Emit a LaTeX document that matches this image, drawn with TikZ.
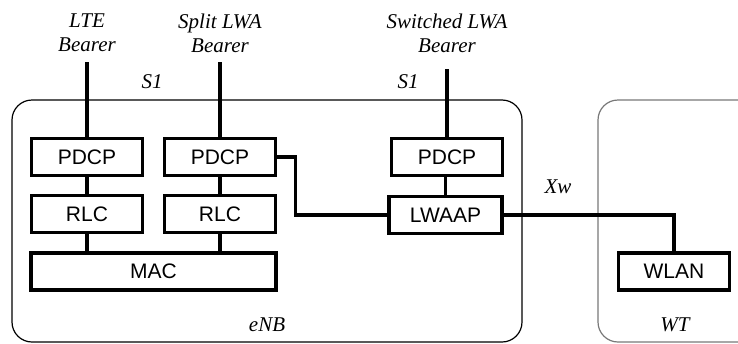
\documentclass[tikz,border=0pt]{standalone}
\usepackage{fontspec}
\setmainfont{Liberation Serif}
\setsansfont{Liberation Sans}
\usepackage{xcolor}
\definecolor{boxgray}{RGB}{120,120,120}
\usetikzlibrary{positioning, calc}

\begin{document}
\begin{tikzpicture}[x=1pt, y=-1pt,
  layer/.style={rectangle, draw=black, line width=3.2pt, fill=white,
                minimum width=#1, minimum height=37pt, inner sep=0pt,
                font=\sffamily\fontsize{21}{23}\selectfont},
  layer/.default=111pt,
  lbl/.style={font=\itshape\fontsize{21}{24}\selectfont, align=center, inner sep=0pt},
  link/.style={line width=3.2pt},
  site/.style={rounded corners=20pt, line width=1.2pt, draw=#1}
]
\useasboundingbox (0,0) rectangle (738,343);
\clip (0,0) rectangle (738,343);

% containers
\draw[site=black] (12,100) rectangle (522,342);
\draw[site=boxgray] (598,100) rectangle (770,342);
\node[lbl] (enb) at (267,325) {eNB};
\node[lbl] (wt) at (675,325) {WT};

% bearers
\node[lbl] (lte) at (87,33) {LTE\\Bearer};
\node[lbl] (split) at (220,33) {Split LWA\\Bearer};
\node[lbl] (switched) at (447,33) {Switched LWA\\Bearer};
\coordinate (lteIn) at (87,62);
\coordinate (splitIn) at (220,62);
\coordinate (switchedIn) at (447,69);
\node[lbl] (s1a) at (152,82) {S1};
\node[lbl] (s1b) at (408,82) {S1};
\node[lbl] (xw) at (558,187) {Xw};

% eNB stacks
\node[layer] (pdcpA) at (87,157) {PDCP};
\node[layer] (pdcpB) at (220,157) {PDCP};
\node[layer] (rlcA) at (87,214) {RLC};
\node[layer] (rlcB) at (220,214) {RLC};
\node[layer=245pt] (mac) at (153.5,271.5) {MAC};
\node[layer] (pdcpC) at (447,157) {PDCP};
\node[layer=113pt] (lwaap) at (445.5,215) {LWAAP};

% WT
\node[layer] (wlan) at (674,271.5) {WLAN};

% links
\draw[link] (lteIn) -- (pdcpA.north);
\draw[link] (splitIn) -- (pdcpB.north);
\draw[link] (switchedIn) -- (pdcpC.north);
\draw[link] (pdcpA) -- (rlcA);
\draw[link] (pdcpB) -- (rlcB);
\draw[link] (rlcA.south) -- (rlcA.south |- mac.north);
\draw[link] (rlcB.south) -- (rlcB.south |- mac.north);
\draw[link] (pdcpC.south -| lwaap.north) -- (lwaap.north);
\draw[link] (pdcpB.east) -- ++(18,0) |- (lwaap.west);
\draw[link] (lwaap.east) -| (wlan.north);
\end{tikzpicture}
\end{document}
